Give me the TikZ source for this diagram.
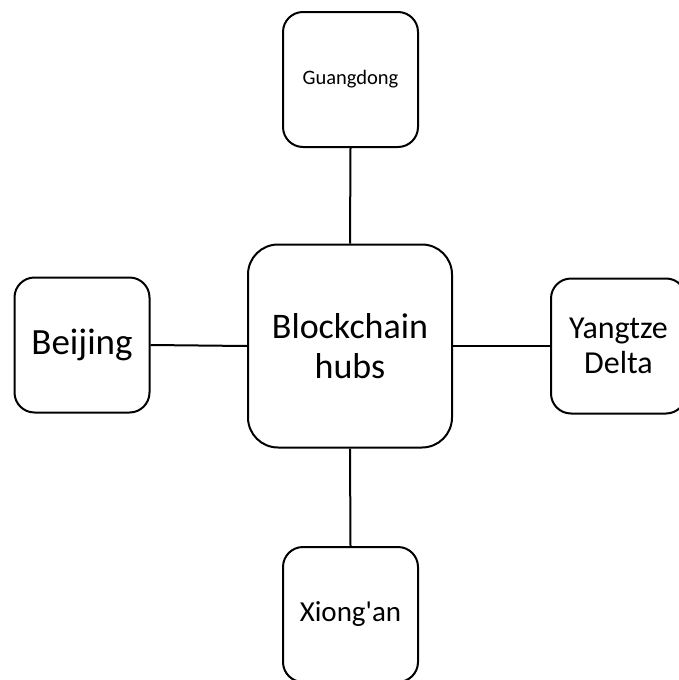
\documentclass[tikz,border=0pt]{standalone}
\usepackage{fontspec}
\setmainfont{Carlito}[Ligatures=TeXOff]
\begin{document}
\begin{tikzpicture}[x=1pt,y=-1pt,
  hub/.style={draw=black, line width=2pt, rounded corners=30pt, fill=white,
    minimum width=204pt, minimum height=203pt, align=center, inner sep=0pt},
  region/.style={draw=black, line width=2pt, rounded corners=20pt, fill=white,
    minimum width=135pt, minimum height=135pt, align=center, inner sep=0pt},
  link/.style={line width=2pt, draw=black}]
\useasboundingbox (0,0) rectangle (678,680);
\node[hub, font=\fontsize{36}{40}\selectfont] (hub) at (350,346) {Blockchain\\hubs};
\node[region, font=\fontsize{20.5}{24}\selectfont] (gd) at (350.5,79.5) {Guangdong};
\node[region, font=\fontsize{37}{42}\selectfont] (bj) at (82,345) {Beijing};
\node[region, font=\fontsize{32}{35}\selectfont] (yd) at (618.5,346) {Yangtze\\Delta};
\node[region, font=\fontsize{29}{34}\selectfont] (xa) at (350.5,614.5) {Xiong'an};
\draw[link] (hub.north) -- (gd.south);
\draw[link] (hub.south) -- (xa.north);
\draw[link] (hub.west) -- (bj.east);
\draw[link] (hub.east) -- (yd.west);
\end{tikzpicture}
\end{document}
